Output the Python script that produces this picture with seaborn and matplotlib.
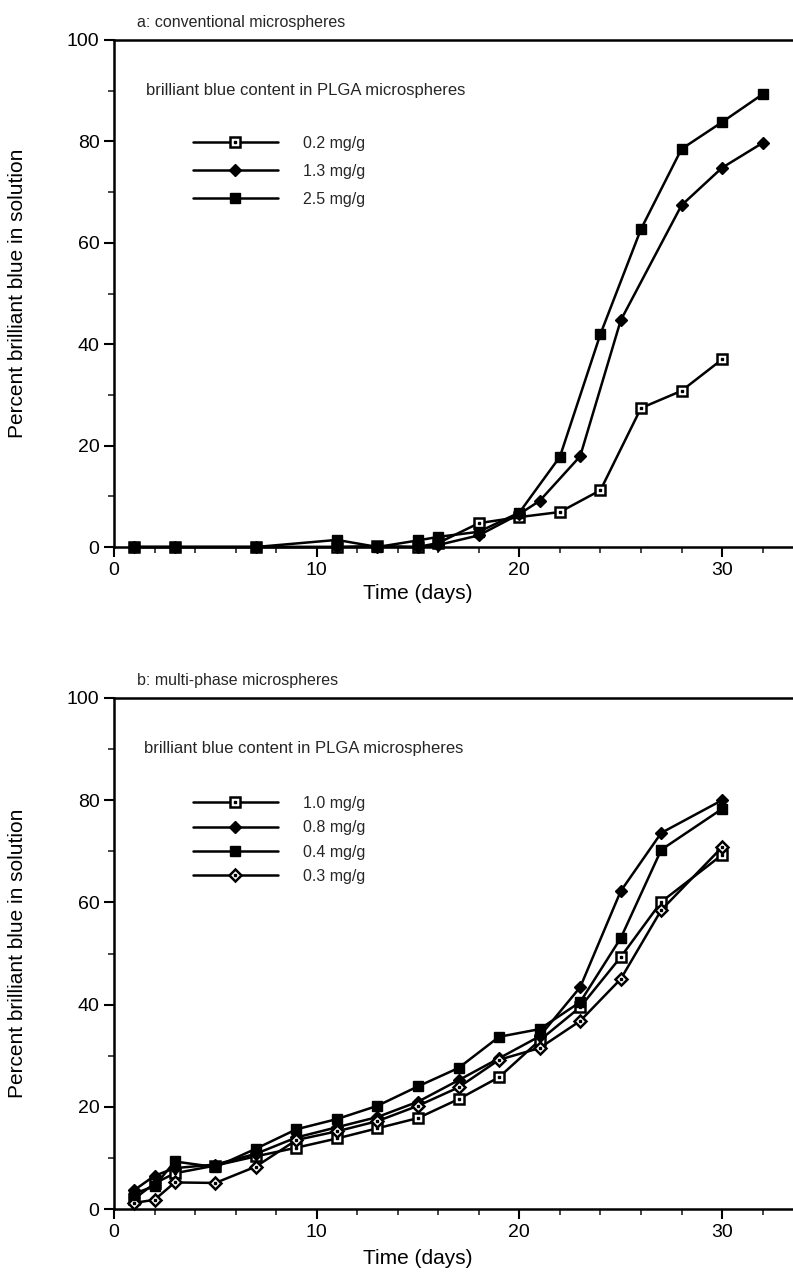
import numpy as np
import pandas as pd
import matplotlib
matplotlib.use("Agg")
import matplotlib.pyplot as plt
import seaborn as sns
from matplotlib.ticker import MultipleLocator
from matplotlib.legend_handler import HandlerTuple

# ---------------- data ----------------
# panel a: conventional microspheres
a_days_02 = [1, 3, 7, 11, 13, 15, 16, 18, 20, 22, 24, 26, 28, 30]
a_vals_02 = [0, 0, 0, 0, 0.2, 0, 0.8, 4.7, 5.9, 6.9, 11.2, 27.4, 30.8, 37.0]
a_days_13 = [1, 3, 7, 11, 13, 15, 16, 18, 20, 21, 23, 25, 28, 30, 32]
a_vals_13 = [0, 0, 0, 0, 0, 0, 0.4, 2.3, 6.5, 9.1, 17.9, 44.7, 67.4, 74.8, 79.7]
a_days_25 = [1, 3, 7, 11, 13, 15, 16, 18, 20, 22, 24, 26, 28, 30, 32]
a_vals_25 = [0, 0, 0, 1.4, 0, 1.3, 2.0, 3.0, 6.8, 17.8, 42.0, 62.7, 78.5, 83.8, 89.3]
a_labels = ["0.2 mg/g", "1.3 mg/g", "2.5 mg/g"]

# panel b: multi-phase microspheres
b_days = [1, 2, 3, 5, 7, 9, 11, 13, 15, 17, 19, 21, 23, 25, 27, 30]
b_vals_10 = [2.0, 5.0, 7.0, 8.5, 10.3, 12.0, 13.8, 15.8, 17.8, 21.5, 25.8, 33.0, 39.5, 49.3, 60.1, 69.3]
b_vals_08 = [3.7, 6.5, 8.0, 8.7, 10.8, 14.0, 16.0, 18.0, 21.0, 25.2, 29.5, 33.8, 43.4, 62.2, 73.6, 80.0]
b_vals_04 = [3.0, 4.5, 9.3, 8.2, 11.8, 15.6, 17.6, 20.2, 24.0, 27.6, 33.7, 35.2, 40.5, 53.0, 70.3, 78.3]
b_vals_03 = [1.2, 1.8, 5.2, 5.1, 8.3, 13.5, 15.2, 17.2, 20.2, 23.8, 29.2, 31.5, 36.8, 45.0, 58.5, 70.8]
b_labels = ["1.0 mg/g", "0.8 mg/g", "0.4 mg/g", "0.3 mg/g"]

panel_titles = ["a: conventional microspheres", "b: multi-phase microspheres"]
inner_text = "brilliant blue content in PLGA microspheres"
y_label = "Percent brilliant blue in solution"
x_label = "Time (days)"

# ---------------- style ----------------
sns.set_theme(style="ticks")
plt.rcParams["font.family"] = ["Liberation Sans", "DejaVu Sans"]

W, H = 793, 1274
fig = plt.figure(figsize=(W / 100, H / 100), dpi=100)


def fx(px):
    return px / W


def fy(py):
    return 1 - py / H


axa = fig.add_axes([fx(114), fy(547), fx(W) - fx(114), fy(40) - fy(547)])
axb = fig.add_axes([fx(114), fy(1209), fx(W) - fx(114), fy(698) - fy(1209)])

STY = {
    "open_sq": dict(marker="s", markersize=7, markerfacecolor="white", markeredgecolor="black", markeredgewidth=1.8),
    "fill_sq": dict(marker="s", markersize=7.5, markerfacecolor="black", markeredgecolor="black", markeredgewidth=1),
    "fill_di": dict(marker="D", markersize=6, markerfacecolor="black", markeredgecolor="black", markeredgewidth=1),
    "open_di": dict(marker="D", markersize=6, markerfacecolor="white", markeredgecolor="black", markeredgewidth=1.8),
}


def draw(ax, x, y, style):
    n0 = len(ax.lines)
    sns.lineplot(x=x, y=y, ax=ax, color="black", linewidth=1.8, estimator=None,
                 sort=False, legend=False, **STY[style])
    line = ax.lines[n0]
    line.set_clip_on(False)
    handle = line
    if style.startswith("open"):
        dot, = ax.plot(x, y, linestyle="none", marker="s", markersize=1.6,
                       color="black", clip_on=False, zorder=line.get_zorder() + 0.1)
        handle = (line, dot)
    return handle


ha = [
    draw(axa, a_days_02, a_vals_02, "open_sq"),
    draw(axa, a_days_13, a_vals_13, "fill_di"),
    draw(axa, a_days_25, a_vals_25, "fill_sq"),
]
hb = [
    draw(axb, b_days, b_vals_10, "open_sq"),
    draw(axb, b_days, b_vals_08, "fill_di"),
    draw(axb, b_days, b_vals_04, "fill_sq"),
    draw(axb, b_days, b_vals_03, "open_di"),
]

for ax in (axa, axb):
    ax.set_xlim(0, 33.5)
    ax.set_ylim(0, 100)
    ax.set_facecolor("white")
    ax.spines["right"].set_visible(False)
    for s in ("left", "bottom", "top"):
        ax.spines[s].set_linewidth(1.8)
        ax.spines[s].set_color("black")
    ax.xaxis.set_major_locator(MultipleLocator(10))
    ax.xaxis.set_minor_locator(MultipleLocator(2))
    ax.yaxis.set_major_locator(MultipleLocator(20))
    ax.yaxis.set_minor_locator(MultipleLocator(10))
    ax.tick_params(which="major", direction="out", length=7, width=1.5,
                   labelsize=14, colors="black", top=False, right=False)
    ax.tick_params(which="minor", direction="out", length=4, width=1.2,
                   top=False, right=False)
    ax.set_xlabel(x_label, fontsize=15, color="black")
    ax.set_ylabel(y_label, fontsize=15, color="black")
    ax.yaxis.set_label_coords(-0.128, 0.5)

axa.xaxis.set_label_coords(0.448, -0.072)
axb.xaxis.set_label_coords(0.448, -0.078)

fig.text(fx(137), fy(23), panel_titles[0], fontsize=11.5, ha="left", va="center")
fig.text(fx(137), fy(680), panel_titles[1], fontsize=11.5, ha="left", va="center")
fig.text(fx(146), fy(90), inner_text, fontsize=12, ha="left", va="center")
fig.text(fx(144), fy(748), inner_text, fontsize=12, ha="left", va="center")

leg_kw = dict(frameon=False, fontsize=11.5, handlelength=5.3, handletextpad=1.6,
              borderpad=0, borderaxespad=0, loc="upper left",
              bbox_transform=fig.transFigure,
              handler_map={tuple: HandlerTuple(ndivide=1)})
axa.legend(ha, a_labels, bbox_to_anchor=(fx(193), fy(136)), labelspacing=0.8, **leg_kw)
axb.legend(hb, b_labels, bbox_to_anchor=(fx(193), fy(796)), labelspacing=0.58, **leg_kw)

fig.savefig("out.png", dpi=100, facecolor="white")
